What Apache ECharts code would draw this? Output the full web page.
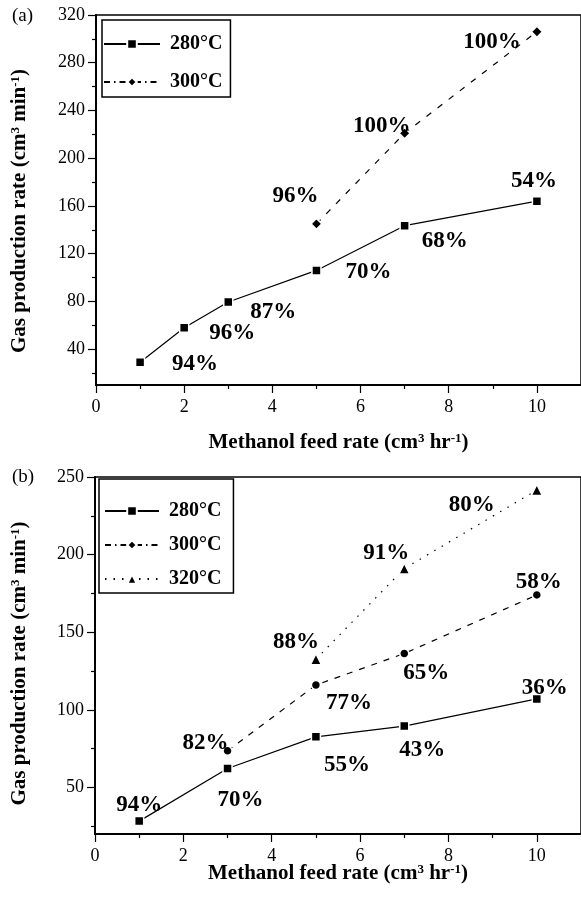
<!DOCTYPE html>
<html>
<head>
<meta charset="utf-8">
<script src="https://cdn.jsdelivr.net/npm/echarts@6/dist/echarts.min.js"></script>
<style>
html, body { margin: 0; padding: 0; background: #fff; }
#main { width: 581px; height: 899px; }
</style>
</head>
<body>
<div id="main"></div>
<script>
// panel (a)
var feedA280 = [1, 2, 3, 5, 7, 10];
var gasA280 = [29, 58, 79.5, 106, 143.5, 164];
var convA280 = ['94%', '96%', '87%', '70%', '68%', '54%'];
var feedA300 = [5, 7, 10];
var gasA300 = [145, 221, 306];
var convA300 = ['96%', '100%', '100%'];

// panel (b)
var feedB280 = [1, 3, 5, 7, 10];
var gasB280 = [28.3, 62.2, 82.6, 89.5, 107];
var convB280 = ['94%', '70%', '55%', '43%', '36%'];
var feedB300 = [3, 5, 7, 10];
var gasB300 = [73.6, 116, 136.3, 174];
var convB300 = ['82%', '77%', '65%', '58%'];
var feedB320 = [5, 7, 10];
var gasB320 = [132.6, 191, 241.6];
var convB320 = ['88%', '91%', '80%'];

// ticks
var xMajor = [0, 2, 4, 6, 8, 10];
var xMinor = [1, 3, 5, 7, 9];
var yMajorA = [40, 80, 120, 160, 200, 240, 280, 320];
var yMinorA = [20, 60, 100, 140, 180, 220, 260, 300];
var yMajorB = [50, 100, 150, 200, 250];
var yMinorB = [25, 75, 125, 175, 225];

// label offsets (px) for the conversion labels
var offA280 = [[55, 2], [48, 5], [45, 10], [52, 2], [40, 15], [-3, -20]];
var offA300 = [[-21, -28], [-23, -7], [-45, 10]];
var offB280 = [[0, -16], [13, 32], [31, 28], [18, 24], [8, -11]];
var offB300 = [[-22, -8], [33, 18], [22, 20], [2, -13]];
var offB320 = [[-20, -17], [-18, -16], [-65, 15]];

var serif = 'Liberation Serif';
var sup = { fontFamily: serif, fontWeight: 'bold', fontSize: 13, color: '#000', verticalAlign: 'top' };

function pts(xs, ys, offs) {
    return xs.map(function (x, i) {
        return { value: [x, ys[i]], label: { offset: offs[i] } };
    });
}

function xAxes(grid, gap) {
    return [{
        type: 'value', gridIndex: grid, min: 0, max: 11,
        axisLine: { show: true, onZero: false, lineStyle: { color: '#000', width: 2 } },
        axisTick: { show: true, length: 8, customValues: xMajor, lineStyle: { color: '#000', width: 1.2 } },
        axisLabel: { customValues: xMajor, color: '#000', fontFamily: serif, fontSize: 18, margin: 13 },
        splitLine: { show: false },
        name: 'Methanol feed rate (cm{sup|3} hr{sup|-1})',
        nameLocation: 'middle', nameGap: gap, nameMoveOverlap: false,
        nameTextStyle: { fontFamily: serif, fontWeight: 'bold', fontSize: 21, color: '#000', rich: { sup: sup } }
    }, {
        type: 'value', gridIndex: grid, min: 0, max: 11, position: 'bottom',
        axisLine: { show: false },
        axisTick: { show: true, length: 4, customValues: xMinor, lineStyle: { color: '#000', width: 1.2 } },
        axisLabel: { show: false },
        splitLine: { show: false }
    }];
}

function yAxes(grid, lo, hi, major, minor, gap, shift) {
    return [{
        type: 'value', gridIndex: grid, min: lo, max: hi,
        axisLine: { show: true, onZero: false, lineStyle: { color: '#000', width: 2 } },
        axisTick: { show: true, length: 8, customValues: major, lineStyle: { color: '#000', width: 1.2 } },
        axisLabel: { customValues: major, color: '#000', fontFamily: serif, fontSize: 18, margin: 11 },
        splitLine: { show: false },
        name: 'Gas production rate (cm{sup|3} min{sup|-1})',
        nameLocation: 'middle', nameGap: gap, nameRotate: 90, nameMoveOverlap: false,
        nameTextStyle: { fontFamily: serif, fontWeight: 'bold', fontSize: 21, color: '#000', padding: [0, shift, 0, 0], rich: { sup: sup } }
    }, {
        type: 'value', gridIndex: grid, min: lo, max: hi, position: 'left',
        axisLine: { show: false },
        axisTick: { show: true, length: 4, customValues: minor, lineStyle: { color: '#000', width: 1.2 } },
        axisLabel: { show: false },
        splitLine: { show: false }
    }];
}

function lineSeries(name, xi, yi, data, labels, symbol, size, dash) {
    return {
        name: name, type: 'line', xAxisIndex: xi, yAxisIndex: yi,
        data: data,
        symbol: symbol, symbolSize: size,
        itemStyle: { color: '#000', borderColor: '#fff', borderWidth: 1.5 },
        lineStyle: { color: '#000', width: 1.2, type: dash },
        label: {
            show: labels != null, position: 'inside',
            formatter: function (p) { return labels[p.dataIndex]; },
            fontFamily: serif, fontWeight: 'bold', fontSize: 23, color: '#000'
        },
        z: 3
    };
}

var legendText = { fontFamily: serif, fontWeight: 'bold', fontSize: 20, color: '#000', padding: [0, 0, 0, 5] };

var option = {
    animation: false,
    backgroundColor: '#fff',
    title: [
        { text: '(a)', left: 12, top: 7, padding: 0, textStyle: { fontFamily: serif, fontWeight: 'normal', fontSize: 19, color: '#000' } },
        { text: '(b)', left: 12, top: 468, padding: 0, textStyle: { fontFamily: serif, fontWeight: 'normal', fontSize: 19, color: '#000' } }
    ],
    legend: [{
        left: 102, top: 20, orient: 'vertical',
        data: ['280°C', '300°C'],
        itemWidth: 56, itemHeight: 12, itemGap: 18,
        padding: [14, 8, 5, 1],
        borderColor: '#000', borderWidth: 1.5,
        textStyle: legendText
    }, {
        left: 99, top: 479, orient: 'vertical',
        data: ['280°C ', '300°C ', '320°C'],
        itemWidth: 54, itemHeight: 12, itemGap: 14,
        padding: [22, 7, 4, 5],
        borderColor: '#000', borderWidth: 1.5,
        textStyle: legendText
    }],
    grid: [
        { left: 96, top: 15, width: 485, height: 370, show: true, borderColor: '#000', borderWidth: 1.5 },
        { left: 95, top: 477, width: 486, height: 357, show: true, borderColor: '#000', borderWidth: 1.5 }
    ],
    xAxis: xAxes(0, 47).concat(xAxes(1, 29)),
    yAxis: yAxes(0, 10, 320, yMajorA, yMinorA, 66, 22).concat(yAxes(1, 20, 250, yMajorB, yMinorB, 65, 16)),
    series: [
        lineSeries('280°C', 0, 0, pts(feedA280, gasA280, offA280), convA280, 'rect', 9, 'solid'),
        lineSeries('300°C data', 0, 0, pts(feedA300, gasA300, offA300), convA300, 'diamond', 11, [6, 8]),
        lineSeries('300°C', 0, 0, [], null, 'diamond', 11, [6, 4, 1.5, 4]),
        lineSeries('280°C ', 2, 2, pts(feedB280, gasB280, offB280), convB280, 'rect', 9, 'solid'),
        lineSeries('300°C data b', 2, 2, pts(feedB300, gasB300, offB300), convB300, 'circle', 9, [6, 7]),
        lineSeries('300°C ', 2, 2, [], null, 'diamond', 11, [6, 4, 1.5, 4]),
        lineSeries('320°C', 2, 2, pts(feedB320, gasB320, offB320), convB320, 'triangle', 11, [1.5, 7])
    ]
};

var myChart = echarts.init(document.getElementById('main'));
myChart.setOption(option);
</script>
</body>
</html>
